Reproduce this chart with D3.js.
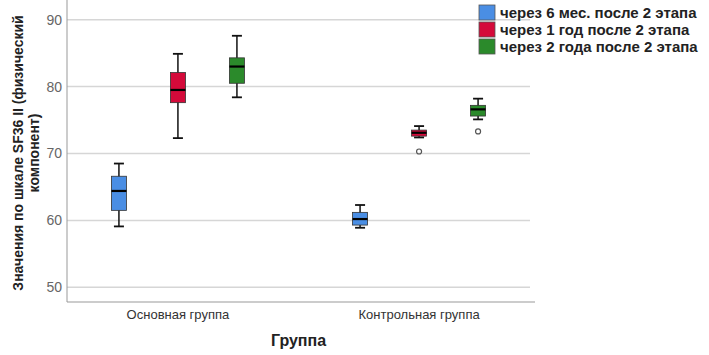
<!DOCTYPE html>
<html>
<head>
<meta charset="utf-8">
<script src="https://cdn.jsdelivr.net/npm/d3@7"></script>
<style>
  body { margin: 0; background: #fff; }
  svg { font-family: "Liberation Sans", Arial, sans-serif; }
</style>
</head>
<body>
<div id="container"></div>
<script>
/** DATA */
const groups = ["Основная группа", "Контрольная группа"];
const series = ["через 6 мес. после 2 этапа", "через 1 год после 2 этапа", "через 2 года после 2 этапа"];
const colors = ["#4a8ee4", "#d40a3a", "#2b8a2b"];
const yTicks = [50, 60, 70, 80, 90];

// [whisker low, Q1, median, Q3, whisker high] per group, per series
const mainStats = [
  [59.1, 61.5, 64.4, 66.6, 68.5],
  [72.3, 77.6, 79.5, 82.1, 84.9],
  [78.4, 80.5, 83.0, 84.3, 87.6]
];
const controlStats = [
  [58.9, 59.3, 60.2, 61.2, 62.3],
  [72.4, 72.6, 73.1, 73.5, 74.1],
  [75.1, 75.6, 76.6, 77.2, 78.2]
];
const controlOutliers = [[], [70.3], [73.3]];

/** CONSTANTS */
const width = 709,
  height = 355,
  margin = { top: 0, bottom: 53, left: 67, right: 179 };

const svg = d3.select("#container")
  .append("svg")
  .attr("width", width)
  .attr("height", height);

const y = d3.scaleLinear()
  .domain([47.8, 92.5])
  .range([height - margin.bottom, 3]);

const x = d3.scalePoint()
  .domain(groups)
  .range([margin.left, width - margin.right])
  .padding(0.46);

const xs = d3.scalePoint()
  .domain(series)
  .range([-59, 59]);

const boxW = 15;

// grid lines
svg.selectAll("line.grid")
  .data(yTicks)
  .join("line")
  .attr("class", "grid")
  .attr("x1", margin.left)
  .attr("x2", width - margin.right)
  .attr("y1", d => y(d))
  .attr("y2", d => y(d))
  .attr("stroke", "#d6d6d6")
  .attr("stroke-width", 1.5);

// axes lines
svg.append("line")
  .attr("x1", margin.left).attr("x2", margin.left)
  .attr("y1", 0).attr("y2", height - margin.bottom)
  .attr("stroke", "#999");
svg.append("line")
  .attr("x1", margin.left).attr("x2", width - margin.right + 5)
  .attr("y1", height - margin.bottom).attr("y2", height - margin.bottom)
  .attr("stroke", "#999");

// y tick labels
svg.selectAll("text.ytick")
  .data(yTicks)
  .join("text")
  .attr("class", "ytick")
  .attr("x", margin.left - 5)
  .attr("y", d => y(d))
  .attr("dy", "0.35em")
  .attr("text-anchor", "end")
  .attr("fill", "#666")
  .style("font-size", "14px")
  .text(d => d);

// x tick labels
svg.selectAll("text.xtick")
  .data(groups)
  .join("text")
  .attr("class", "xtick")
  .attr("x", d => x(d))
  .attr("y", height - margin.bottom + 17)
  .attr("text-anchor", "middle")
  .attr("fill", "#333")
  .style("font-size", "13px")
  .text(d => d);

// axis titles
svg.append("text")
  .attr("x", (margin.left + width - margin.right) / 2)
  .attr("y", 346)
  .attr("text-anchor", "middle")
  .attr("font-weight", "bold")
  .attr("fill", "#222")
  .style("font-size", "16px")
  .text("Группа");

const yTitle = svg.append("text")
  .attr("transform", `translate(23, 153) rotate(-90)`)
  .attr("text-anchor", "middle")
  .attr("font-weight", "bold")
  .attr("fill", "#222")
  .style("font-size", "14px");
yTitle.append("tspan").attr("x", 0).attr("dy", 0).text("Значения по шкале SF36 II (физический");
yTitle.append("tspan").attr("x", 0).attr("dy", 16).text("компонент)");

// boxes
const boxes = [];
groups.forEach((g, gi) => {
  const stats = gi === 0 ? mainStats : controlStats;
  series.forEach((s, si) => {
    boxes.push({
      cx: x(g) + xs(s),
      v: stats[si],
      color: colors[si],
      outliers: gi === 0 ? [] : controlOutliers[si]
    });
  });
});

const bg = svg.selectAll("g.box")
  .data(boxes)
  .join("g")
  .attr("class", "box");

bg.append("line")
  .attr("x1", d => d.cx).attr("x2", d => d.cx)
  .attr("y1", d => y(d.v[0])).attr("y2", d => y(d.v[4]))
  .attr("stroke", "#111").attr("stroke-width", 1.5);

bg.selectAll("line.cap")
  .data(d => [[d.cx, d.v[0]], [d.cx, d.v[4]]])
  .join("line")
  .attr("class", "cap")
  .attr("x1", d => d[0] - 5).attr("x2", d => d[0] + 5)
  .attr("y1", d => y(d[1])).attr("y2", d => y(d[1]))
  .attr("stroke", "#111").attr("stroke-width", 1.8);

bg.append("rect")
  .attr("x", d => d.cx - boxW / 2)
  .attr("width", boxW)
  .attr("y", d => y(d.v[3]))
  .attr("height", d => y(d.v[1]) - y(d.v[3]))
  .attr("fill", d => d.color)
  .attr("stroke", "#333")
  .attr("stroke-width", 0.8);

bg.append("line")
  .attr("x1", d => d.cx - boxW / 2).attr("x2", d => d.cx + boxW / 2)
  .attr("y1", d => y(d.v[2])).attr("y2", d => y(d.v[2]))
  .attr("stroke", "#000").attr("stroke-width", 2.2);

bg.selectAll("circle")
  .data(d => d.outliers.map(o => [d.cx, o]))
  .join("circle")
  .attr("cx", d => d[0])
  .attr("cy", d => y(d[1]))
  .attr("r", 2.5)
  .attr("fill", "none")
  .attr("stroke", "#555")
  .attr("stroke-width", 1.2);

// legend
const legend = svg.selectAll("g.legend")
  .data(series)
  .join("g")
  .attr("class", "legend")
  .attr("transform", (d, i) => `translate(479, ${5 + i * 17})`);

legend.append("rect")
  .attr("width", 16).attr("height", 15)
  .attr("fill", (d, i) => colors[i])
  .attr("stroke", "#555")
  .attr("stroke-width", 0.8);

legend.append("text")
  .attr("x", 21)
  .attr("y", 7.5)
  .attr("dy", "0.35em")
  .attr("font-weight", "bold")
  .attr("fill", "#222")
  .style("font-size", "15px")
  .text(d => d);
</script>
</body>
</html>
